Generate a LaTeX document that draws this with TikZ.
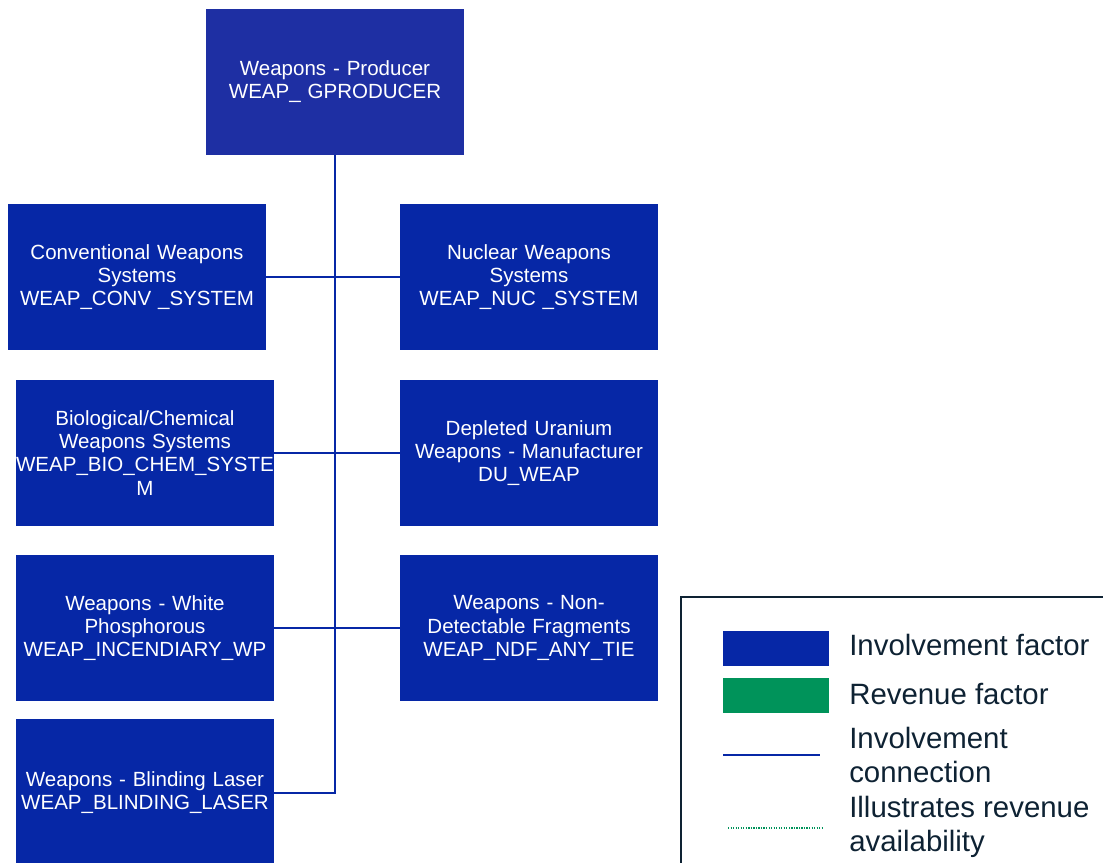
\documentclass[tikz,border=0pt]{standalone}
\usepackage{fontspec}
\setmainfont{Liberation Sans}
\usetikzlibrary{calc}
\definecolor{invblue}{HTML}{0627A6}
\definecolor{topblue}{HTML}{1E2FA3}
\definecolor{revgreen}{HTML}{00935A}
\definecolor{inkdark}{HTML}{0E2233}
\tikzset{
  factor/.style={fill=invblue, draw=none, text=white, align=center,
    text width=6.45cm, minimum height=3.65cm, inner sep=0pt,
    font=\fontsize{14.6}{16.4}\selectfont},
  link/.style={draw=invblue, line width=2.1pt},
  legtext/.style={anchor=west, align=left, text=inkdark, inner sep=0pt,
    font=\fontsize{20.9}{24.2}\selectfont}
}

\begin{document}
\begin{tikzpicture}[x=0.025cm, y=-0.025cm]
			%%%%% START %%%%%
			\useasboundingbox (0, 0) rectangle (1103, 862);
			
			\node[factor, fill=topblue] (prod) at (335, 82) {Weapons - Producer\\WEAP\_ GPRODUCER};
			
			\node[factor] (conv) at (137, 277) {Conventional Weapons\\Systems\\WEAP\_CONV \_SYSTEM};
			\node[factor] (nuc) at (529, 277) {Nuclear Weapons\\Systems\\WEAP\_NUC \_SYSTEM};
			
			\node[factor] (bio) at (145, 453) {Biological/Chemical\\Weapons Systems\\WEAP\_BIO\_CHEM\_SYSTE\\M};
			\node[factor] (du) at (529, 453) {Depleted Uranium\\Weapons - Manufacturer\\DU\_WEAP};
			
			\node[factor] (wp) at (145, 628) {Weapons - White\\Phosphorous\\WEAP\_INCENDIARY\_WP};
			\node[factor] (ndf) at (529, 628) {Weapons - Non-\\Detectable Fragments\\WEAP\_NDF\_ANY\_TIE};
			
			\node[factor, minimum height=3.7cm] (blind) at (145, 793) {Weapons - Blinding Laser\\WEAP\_BLINDING\_LASER};
			
			% trunk and branches
			\draw[link] (prod.south) -- (prod.south |- blind.east) -- (blind.east);
			\draw[link] (conv.east) -- (nuc.west);
			\draw[link] (bio.east) -- (du.west);
			\draw[link] (wp.east) -- (ndf.west);
			
			% legend
			\draw[draw=inkdark, line width=1.5pt] (681, 880) -- (681, 597) -- (1115, 597);
			\fill[invblue] (723, 631) rectangle (829, 666);
			\fill[revgreen] (723, 678) rectangle (829, 713);
			\draw[invblue, line width=1.3pt] (723, 755) -- (820, 755);
			\draw[revgreen, line width=1.6pt, dash pattern=on 0.9pt off 0.9pt] (728, 828) -- (824, 828);
			
			\node[legtext] (lg1) at (849, 645) {Involvement factor};
			\node[legtext] (lg2) at (849, 694) {Revenue factor};
			\node[legtext] (lg3) at (849, 755) {Involvement\\connection};
			\node[legtext] (lg4) at (849, 827) {Illustrates revenue\\availability};
			
			%%%%% END %%%%%
\end{tikzpicture}
\end{document}
